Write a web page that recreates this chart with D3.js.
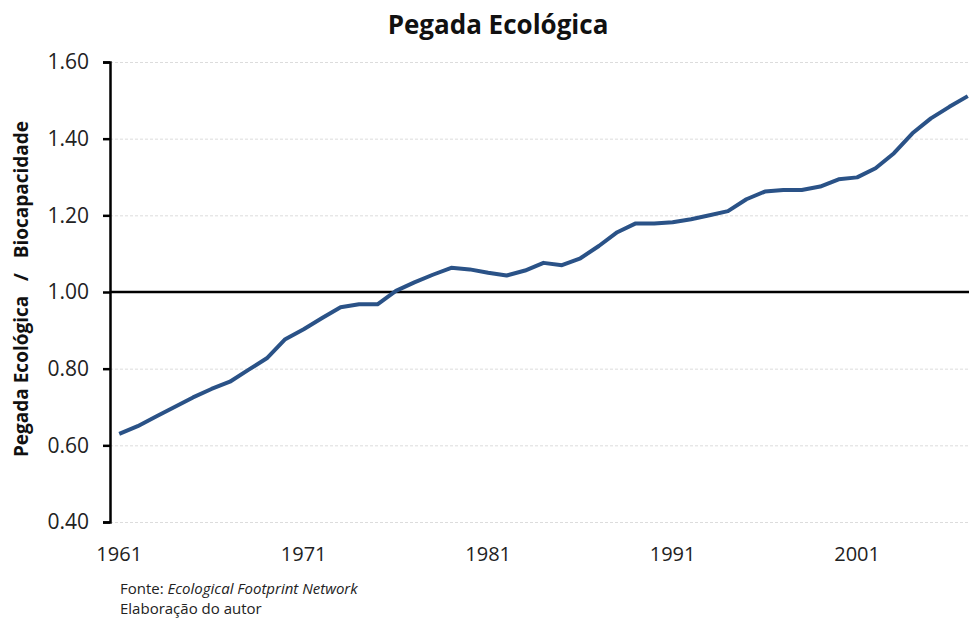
<!DOCTYPE html>
<html>
<head>
<meta charset="utf-8">
<script src="https://cdn.jsdelivr.net/npm/d3@7"></script>
<style>
  body { margin: 0; background: #fff; }
  svg { display: block; font-family: "Open Sans", sans-serif; }
</style>
</head>
<body>
<script>
const w = 969;
const h = 621;

// data
const years = d3.range(1961, 2008);
const ratio = [0.630, 0.650, 0.675, 0.700, 0.725, 0.747, 0.766, 0.797, 0.827, 0.877,
               0.903, 0.932, 0.960, 0.968, 0.968, 1.003, 1.025, 1.045, 1.063, 1.059,
               1.050, 1.043, 1.056, 1.076, 1.070, 1.088, 1.120, 1.156, 1.179, 1.179,
               1.182, 1.190, 1.200, 1.211, 1.242, 1.262, 1.266, 1.266, 1.275, 1.294,
               1.299, 1.323, 1.362, 1.414, 1.453, 1.483, 1.511];
const yTicks = [0.40, 0.60, 0.80, 1.00, 1.20, 1.40, 1.60];
const xTickLabels = [1961, 1971, 1981, 1991, 2001];

const data = years.map((y, i) => ({year: y, value: ratio[i]}));

const plotLeft = 110, plotTop = 62, plotBottom = 522, plotRight = 977;

const xScale = d3.scaleBand()
                 .domain(years)
                 .range([plotLeft, plotRight]);
const yScale = d3.scaleLinear()
                 .domain([0.4, 1.6])
                 .range([plotBottom, plotTop]);

const svg = d3.select("body")
              .append("svg")
              .attr("width", w)
              .attr("height", h);

// gridlines
svg.append("g")
   .attr("transform", "translate(" + plotLeft + ",0)")
   .call(d3.axisLeft(yScale).tickValues(yTicks).tickSize(-(w - plotLeft)).tickFormat(""))
   .call(g => g.select(".domain").remove())
   .call(g => g.selectAll("line")
               .attr("stroke", "#dcdcdc")
               .attr("stroke-width", 1)
               .attr("stroke-dasharray", "3,2"));

// reference line at 1.00
svg.append("line")
   .attr("x1", plotLeft)
   .attr("x2", w)
   .attr("y1", yScale(1))
   .attr("y2", yScale(1))
   .attr("stroke", "#000")
   .attr("stroke-width", 2.5);

// y axis
const yAxis = svg.append("g")
   .attr("transform", "translate(" + plotLeft + ",0)")
   .call(d3.axisLeft(yScale).tickValues(yTicks).tickSize(7).tickPadding(14).tickFormat(d3.format(".2f")));
yAxis.select(".domain").attr("stroke", "#000").attr("stroke-width", 2.5);
yAxis.selectAll("line").attr("stroke", "#000").attr("stroke-width", 2.5);
yAxis.selectAll("text")
     .attr("fill", "#222")
     .style("font-size", "21px")
     .style("font-family", "Open Sans, sans-serif");

// x axis labels
const xAxis = svg.append("g")
   .attr("transform", "translate(0," + plotBottom + ")")
   .call(d3.axisBottom(xScale).tickValues(xTickLabels).tickSize(0).tickPadding(25));
xAxis.select(".domain").remove();
xAxis.selectAll("text")
     .attr("fill", "#222")
     .style("font-size", "20px")
     .style("font-family", "Open Sans, sans-serif");

// the line
const line = d3.line()
               .x(d => xScale(d.year) + xScale.bandwidth() / 2)
               .y(d => yScale(d.value));

svg.append("path")
   .datum(data)
   .attr("d", line)
   .attr("fill", "none")
   .attr("stroke", "#2a5287")
   .attr("stroke-width", 4)
   .attr("stroke-linejoin", "round");

// title
svg.append("text")
   .attr("x", 498)
   .attr("y", 34)
   .attr("text-anchor", "middle")
   .style("font-size", "26px")
   .style("font-weight", "bold")
   .attr("fill", "#111")
   .text("Pegada Ecológica");

// y label
svg.append("text")
   .attr("transform", "translate(28,289) rotate(-90)")
   .attr("text-anchor", "middle")
   .style("font-size", "19px")
   .style("font-weight", "bold")
   .style("white-space", "pre")
   .attr("fill", "#111")
   .text("Pegada Ecológica   /   Biocapacidade");

// footer
const note = svg.append("text")
   .attr("x", 120)
   .attr("y", 594)
   .style("font-size", "15px")
   .attr("fill", "#222");
note.append("tspan").text("Fonte: ");
note.append("tspan").style("font-style", "italic").text("Ecological Footprint Network");

svg.append("text")
   .attr("x", 120)
   .attr("y", 614)
   .style("font-size", "15px")
   .attr("fill", "#222")
   .text("Elaboração do autor");
</script>
</body>
</html>
